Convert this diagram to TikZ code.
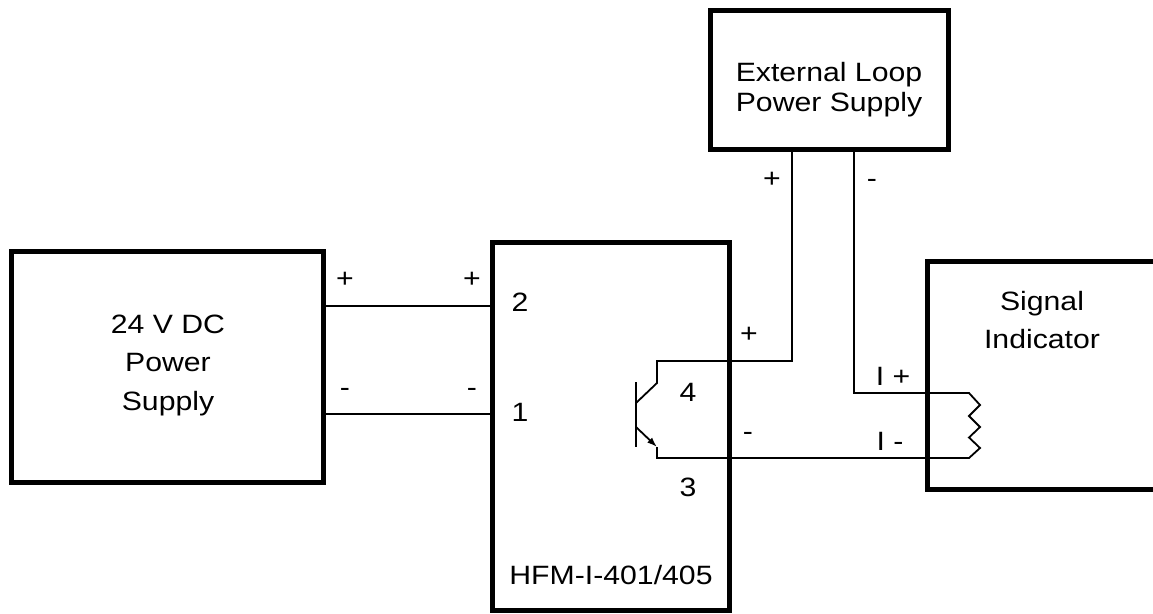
\documentclass[tikz,border=0pt]{standalone}
\usepackage{fontspec}
\setmainfont{Liberation Sans}[FakeStretch=1.14]
\usetikzlibrary{arrows.meta}
\begin{document}
\begin{tikzpicture}[x=1pt,y=-1pt,
  box/.style={draw, line width=5pt, rectangle, inner sep=0pt, outer sep=0pt},
  wire/.style={line width=1.8pt},
  lbl/.style={inner sep=0pt, outer sep=0pt, font=\fontsize{26.5}{30}\selectfont},
  ]
\useasboundingbox (0,0) rectangle (1153,613);
\clip (0,0) rectangle (1153,613);
\fill[white] (0,0) rectangle (1153,613);

% boxes
\node[box, minimum width=312pt, minimum height=231pt] (psu) at (167.5,367) {};
\node[box, minimum width=237pt, minimum height=368pt] (hfm) at (611,426) {};
\node[box, minimum width=238pt, minimum height=139pt] (ext) at (829.5,80) {};
\node[box, minimum width=235pt, minimum height=228pt] (sig) at (1045,375.5) {};

% box texts
\node[lbl, align=center, font=\fontsize{26.5}{38.5}\selectfont] (psutxt) at (168,365) {24 V DC\\Power\\Supply};
\node[lbl, align=center, font=\fontsize{26.5}{30}\selectfont] (exttxt) at (829,90) {External Loop\\Power Supply};
\node[lbl, align=center, font=\fontsize{26.5}{38}\selectfont] (sigtxt) at (1042,320) {Signal\\Indicator};
\node[lbl] (hfmtxt) at (611,575) {HFM-I-401/405};

% supply wires
\coordinate (yp) at (0,306);
\coordinate (ym) at (0,414);
\draw[wire] (psu.east |- yp) -- (hfm.west |- yp);
\draw[wire] (psu.east |- ym) -- (hfm.west |- ym);

% transistor
\coordinate (bT) at (636,382);
\coordinate (bB) at (636,447);
\coordinate (cB) at (636,403);
\coordinate (cK) at (657,383);
\coordinate (cT) at (657,361);
\coordinate (pK) at (792,361);
\coordinate (eB) at (636,427);
\coordinate (eK) at (657,447);
\coordinate (eL) at (657,458);
\coordinate (cZ) at (969,458);
\coordinate (cA) at (969,393);
\coordinate (mK) at (854,393);

\draw[line width=2.2pt] (bT) -- (bB);
\draw[wire] (cB) -- (cK) -- (cT) -- (pK) -- (ext.south -| pK);
\draw[wire, -{Latex[length=10pt,width=7pt]}] (eB) -- (eK);
\draw[wire] (eK) -- (eL) -- (cZ) -- (980,448) -- (969,437.5) -- (980,427) -- (969,416) -- (980,405) -- (cA) -- (mK) -- (ext.south -| mK);

% terminal labels
\node[lbl] (l1) at (345,280) {+};
\node[lbl] (l2) at (472,280) {+};
\node[lbl] (l3) at (345,392) {-};
\node[lbl] (l4) at (472,392) {-};
\node[lbl] (t2) at (520,302) {2};
\node[lbl] (t1) at (520,412) {1};
\node[lbl] (t4) at (688,392) {4};
\node[lbl] (t3) at (688,487) {3};
\node[lbl] (l5) at (772,180) {+};
\node[lbl] (l6) at (872,183) {-};
\node[lbl] (l7) at (749,335) {+};
\node[lbl] (l8) at (748,436) {-};
\node[lbl] (l9) at (893,376) {I +};
\node[lbl] (l10) at (890,441) {I -};
\end{tikzpicture}
\end{document}
